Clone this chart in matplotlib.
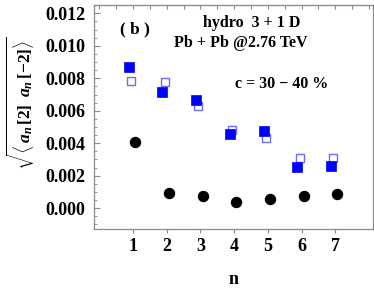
import numpy as np
import matplotlib
matplotlib.use('Agg')
import matplotlib.pyplot as plt
from matplotlib.ticker import MultipleLocator, FormatStrFormatter

plt.rcParams['font.family'] = ['Liberation Serif', 'DejaVu Serif']
plt.rcParams['font.weight'] = 'bold'
plt.rcParams['mathtext.fontset'] = 'custom'
plt.rcParams['mathtext.rm'] = 'Liberation Serif:bold'
plt.rcParams['mathtext.it'] = 'Liberation Serif:italic:bold'
plt.rcParams['mathtext.bf'] = 'Liberation Serif:bold'

# harmonic order
n = np.array([1, 2, 3, 4, 5, 6, 7])
# filled blue squares
filled_sq = [0.00871, 0.00714, 0.00666, 0.00459, 0.00474, 0.00256, 0.00260]
# open blue squares
open_sq = [0.00785, 0.00775, 0.00631, 0.00480, 0.00433, 0.00311, 0.00311]
# black circles
circles = [0.00410, 0.00092, 0.00078, 0.00039, 0.00059, 0.00078, 0.00088]

fig = plt.figure(figsize=(3.74, 2.90), dpi=100)
ax = fig.add_axes([0.2513, 0.2114, 0.7470, 0.7714])

ax.plot(n - 0.06, open_sq, ls='none', marker='s', ms=6.3, mfc='white',
        mec='#6b6bff', mew=1.0, zorder=3)
ax.plot(n - 0.13, filled_sq, ls='none', marker='s', ms=6.5, mfc='#0000ff',
        mec='#0000ff', mew=0.5, zorder=4)
ax.plot(n + 0.06, circles, ls='none', marker='o', ms=7.2, mfc='black',
        mec='black', zorder=4)

ax.set_xlim(-0.16, 8.13)
ax.set_ylim(-0.00126, 0.01251)

for s in ax.spines.values():
    s.set_color('#8a8a8a')
    s.set_linewidth(0.9)

ax.set_xticks(n)
ax.yaxis.set_major_locator(MultipleLocator(0.002))
ax.yaxis.set_minor_locator(MultipleLocator(0.0005))
ax.yaxis.set_major_formatter(FormatStrFormatter('%.3f'))
ax.tick_params(axis='y', which='major', direction='in', length=4, color='#8a8a8a',
               labelsize=13, pad=6)
ax.tick_params(axis='y', which='minor', direction='in', length=2.5, color='#8a8a8a')
ax.tick_params(axis='x', which='major', direction='out', length=3, color='#8a8a8a',
               labelsize=13, pad=4)

# top axis ticks every 0.5
top = ax.secondary_xaxis('top')
top.set_xticks(np.arange(0, 8.01, 0.5))
top.tick_params(direction='in', length=3, color='#8a8a8a', labeltop=False)
top.spines['top'].set_color('#8a8a8a')

ax.set_xlabel('n', fontsize=13, fontweight='bold', labelpad=11)
fig.text(0.055, 1 - 103 / 290, r'$\sqrt{\langle\, a_n\,[2]\;\; a_n\,[-2]\rangle}$',
         rotation=90, ha='center', va='center', fontsize=12.5)

ax.text(0.145, 0.89, '( b )', transform=ax.transAxes, ha='center', va='center',
        fontsize=12.5, fontweight='bold')
ax.text(0.566, 0.92, 'hydro  3 + 1 D', transform=ax.transAxes, ha='center',
        va='center', fontsize=11.5, fontweight='bold')
ax.text(0.525, 0.83, 'Pb + Pb @2.76 TeV', transform=ax.transAxes, ha='center',
        va='center', fontsize=11.5, fontweight='bold')
ax.text(0.670, 0.645, 'c = 30 \u2212 40 %', transform=ax.transAxes, ha='center',
        va='center', fontsize=11.5, fontweight='bold')

fig.savefig('out.png', dpi=100)
